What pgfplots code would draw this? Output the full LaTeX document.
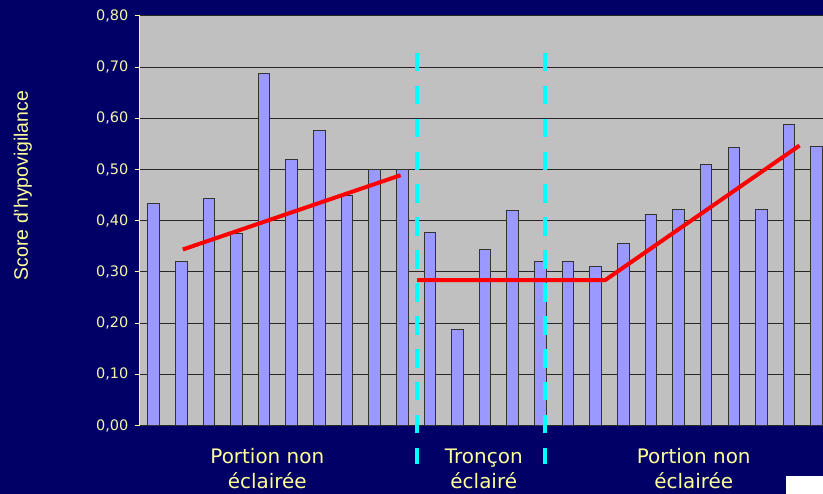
\documentclass[border=0pt]{standalone}
\usepackage{pgfplots}
\pgfplotsset{compat=1.18}
\usepackage{fontspec}
\setmainfont{DejaVu Sans}
\newfontfamily\arialfont{Liberation Sans}
\definecolor{navybg}{RGB}{0,0,102}
\definecolor{plotgray}{RGB}{192,192,192}
\definecolor{barfill}{RGB}{153,153,255}
\definecolor{paleyellow}{RGB}{255,255,153}
\definecolor{ticklab}{RGB}{245,245,170}
\definecolor{cyanline}{RGB}{0,255,255}
\definecolor{redline}{RGB}{255,0,0}
\begin{document}
\begin{tikzpicture}
\fill[navybg] (-140.15bp,-68.3bp) rectangle (684.45bp,426.7bp);
\begin{axis}[
  at={(0,0)}, anchor=south west,
  scale only axis, width=684.45bp, height=410.7bp,
  xmin=0.5, xmax=25.21, ymin=0, ymax=0.8,
  clip=false,
  axis background/.style={fill=plotgray},
  axis x line=none, axis y line*=left,
  y axis line style={draw=paleyellow, line width=1bp, -},
  ytick={0,0.1,0.2,0.3,0.4,0.5,0.6,0.7,0.8},
  ymajorgrids, major grid style={black!85, line width=1bp},
  tick align=outside, major tick length=5bp,
  ytick style={draw=paleyellow, line width=1bp},
  yticklabel style={font=\fontsize{14.5bp}{16bp}\selectfont, text=ticklab, xshift=-3bp,
    /pgf/number format/.cd, fixed, fixed zerofill, precision=2, use comma, assume math mode=true},
]
\addplot[ybar, bar width=0.42, fill=barfill, draw=black!80, line width=1bp] coordinates {
  (1,0.433) (2,0.321) (3,0.443) (4,0.375) (5,0.688) (6,0.520) (7,0.576) (8,0.450)
  (9,0.500) (10,0.500) (11,0.377) (12,0.187) (13,0.344) (14,0.421) (15,0.320)
  (16,0.320) (17,0.310) (18,0.355) (19,0.412) (20,0.422) (21,0.510) (22,0.543)
  (23,0.422) (24,0.588) (25,0.545)};
\addplot[redline, line width=4bp, no marks] coordinates {(2.06,0.344) (9.94,0.489)};
\addplot[redline, line width=4bp, no marks] coordinates {(10.54,0.284) (17.34,0.284) (24.38,0.547)};
\addplot[cyanline, line width=4bp, no marks, dash pattern=on 18.5bp off 14.5bp] coordinates {(10.52,0.728) (10.52,-0.0745)};
\addplot[cyanline, line width=4bp, no marks, dash pattern=on 18.5bp off 14.5bp] coordinates {(15.15,0.728) (15.15,-0.0745)};
\end{axis}
\begin{scope}[every node/.style={text=paleyellow, font=\fontsize{20bp}{22bp}\selectfont, anchor=base, inner sep=0pt}]
\node at (127.85bp,-38.3bp) {Portion non};
\node at (127.85bp,-63.3bp) {éclairée};
\node at (344.85bp,-38.3bp) {Tronçon};
\node at (344.85bp,-63.3bp) {éclairé};
\node at (555.35bp,-38.3bp) {Portion non};
\node at (555.35bp,-63.3bp) {éclairée};
\end{scope}
\node[rotate=90, anchor=base, inner sep=0pt, text=paleyellow, font=\arialfont\fontsize{19.5bp}{21bp}\selectfont] at (-112.15bp,240.7bp) {Score d’hypovigilance};
\fill[white] (647.85bp,-50.6bp) rectangle (684.45bp,-68.3bp);
\end{tikzpicture}
\end{document}
